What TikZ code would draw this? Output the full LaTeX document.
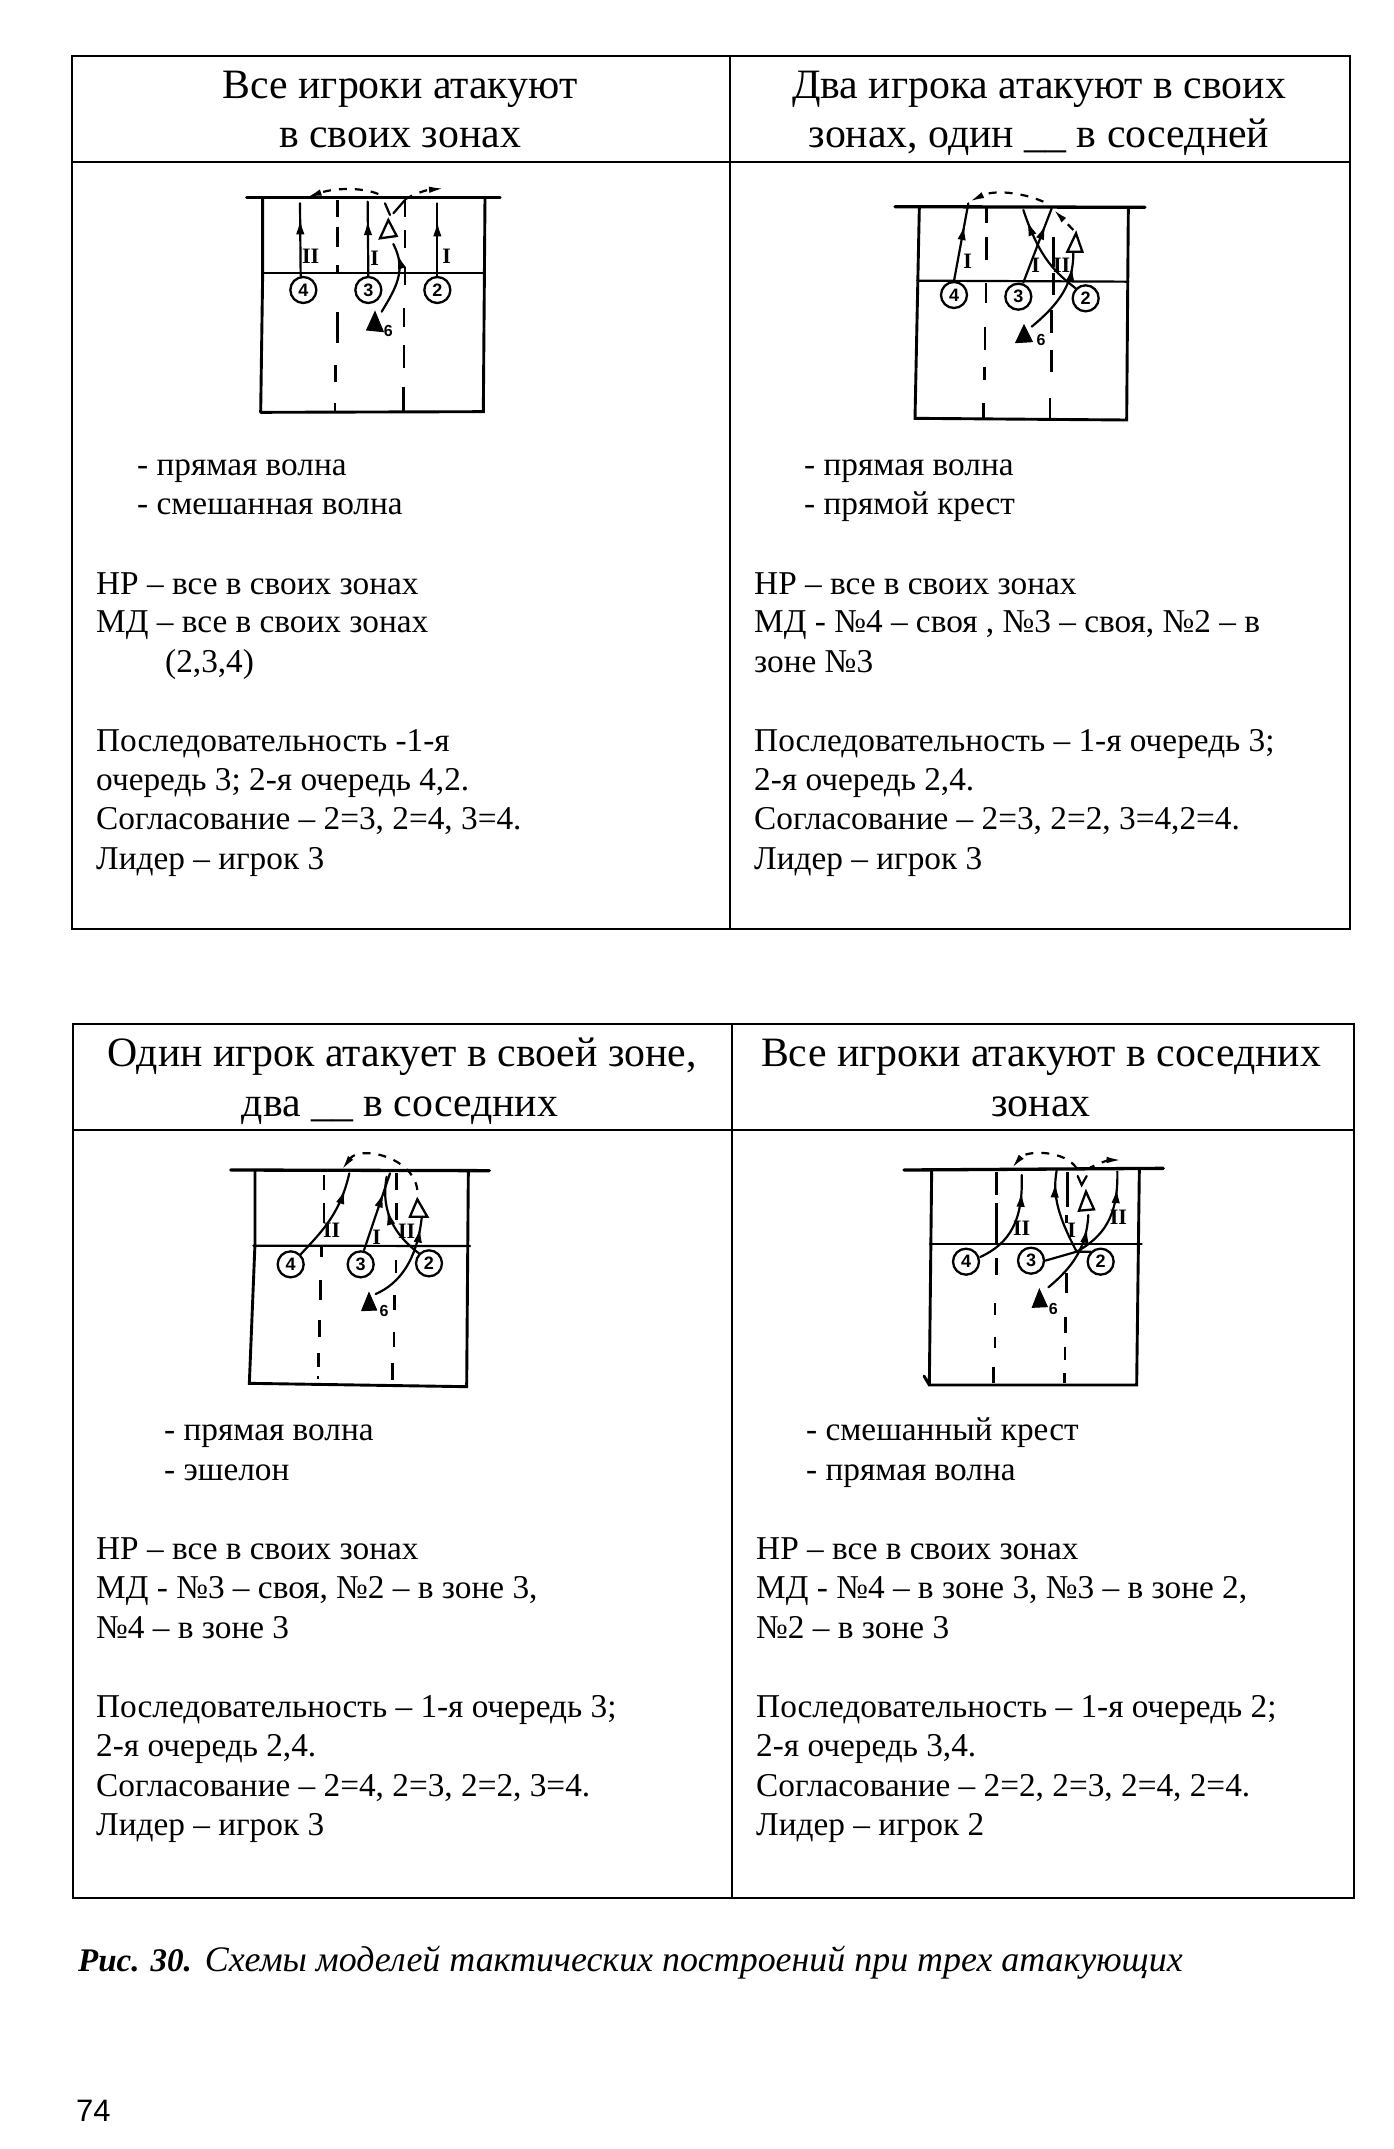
\documentclass[tikz,border=0pt]{standalone}
\usepackage{fontspec}
\setmainfont{Liberation Serif}
\newfontfamily\hw{Liberation Sans}
\usetikzlibrary{arrows.meta,decorations.markings}
\tikzset{
 cell/.style={line width=2.4pt,draw=black,line cap=rect},
 hd/.style={anchor=base,font=\fontsize{41.8}{42}\selectfont,inner sep=0pt},
 bd/.style={anchor=base west,font=\fontsize{33.3}{34}\selectfont,inner sep=0pt},
 court/.style={line width=2.9pt,line cap=round},
 netl/.style={line width=3.3pt,line cap=round},
 zone/.style={line width=2.4pt},
 atk/.style={line width=2.2pt,line cap=round},
 marr/.style={atk,decoration={markings,mark=at position #1 with {\arrow{Latex[length=15pt,width=8.5pt]}}},postaction={decorate}},
 pass/.style={line width=2.2pt,dash pattern=on 8pt off 8pt},
 tipped/.style={-{Latex[length=15pt,width=6.5pt]}},
 plr/.style={circle,draw,line width=2.3pt,minimum size=26pt,inner sep=0pt,font=\hw\bfseries\fontsize{18}{18}\selectfont},
 opent/.style={line width=2.3pt,fill=white,line join=miter},
 fillt/.style={fill=black,draw=black,line width=1pt},
 rn/.style={font=\bfseries\fontsize{22}{22}\selectfont,inner sep=0pt},
 sx/.style={font=\hw\bfseries\fontsize{16}{16}\selectfont,inner sep=0pt},
 cs/.style={x=.33333pt,y=-.33333pt}
}
\newcommand{\tx}[4]{\node[bd] (#3) at (#1,#2+1) {#4};}
\begin{document}
\begin{tikzpicture}[x=1pt,y=-1pt]
\useasboundingbox[fill=white] (0,0) rectangle (1394,2149);
% tables
\draw[cell] (72,56) rectangle (1350,929);
\draw[cell] (72,162) -- (1350,162);
\draw[cell] (730,56) -- (730,929);
\draw[cell] (73,1024) rectangle (1354,1898);
\draw[cell] (73,1130) -- (1354,1130);
\draw[cell] (732,1024) -- (732,1898);
% headers
\node[hd] (h1a) at (400,98) {Все игроки атакуют};
\node[hd] (h1b) at (400,147) {в своих зонах};
\node[hd] (h2a) at (1039,98) {Два игрока атакуют в своих};
\node[hd] (h2b) at (1039,147) {зонах, один \_\_ в соседней};
\node[hd] (h3a) at (402,1066) {Один игрок атакует в своей зоне,};
\node[hd] (h3b) at (400,1116) {два \_\_ в соседних};
\node[hd] (h4a) at (1041,1066) {Все игроки атакуют в соседних};
\node[hd] (h4b) at (1041,1116) {зонах};
% body 1
\tx{137}{474}{a1}{- прямая волна}
\tx{137}{513}{a2}{- смешанная волна}
\tx{96}{593}{a3}{НР – все в своих зонах}
\tx{96}{631}{a4}{МД – все в своих зонах}
\tx{165}{671}{a5}{(2,3,4)}
\tx{96}{750}{a6}{Последовательность -1-я}
\tx{96}{789}{a7}{очередь 3; 2-я очередь 4,2.}
\tx{96}{828}{a8}{Согласование – 2=3, 2=4, 3=4.}
\tx{96}{868}{a9}{Лидер – игрок 3}
% body 2
\tx{804}{474}{b1}{- прямая волна}
\tx{804}{513}{b2}{- прямой крест}
\tx{754}{593}{b3}{НР – все в своих зонах}
\tx{754}{631}{b4}{МД - №4 – своя , №3 – своя, №2 – в}
\tx{754}{671}{b5}{зоне №3}
\tx{754}{750}{b6}{Последовательность – 1-я очередь 3;}
\tx{754}{789}{b7}{2-я очередь 2,4.}
\tx{754}{828}{b8}{Согласование – 2=3, 2=2, 3=4,2=4.}
\tx{754}{868}{b9}{Лидер – игрок 3}
% body 3
\tx{164}{1439}{c1}{- прямая волна}
\tx{164}{1479}{c2}{- эшелон}
\tx{96}{1558}{c3}{НР – все в своих зонах}
\tx{96}{1597}{c4}{МД - №3 – своя, №2 – в зоне 3,}
\tx{96}{1637}{c5}{№4 – в зоне 3}
\tx{96}{1716}{c6}{Последовательность – 1-я очередь 3;}
\tx{96}{1755}{c7}{2-я очередь 2,4.}
\tx{96}{1795}{c8}{Согласование – 2=4, 2=3, 2=2, 3=4.}
\tx{96}{1834}{c9}{Лидер – игрок 3}
% body 4
\tx{756}{1558}{d3}{НР – все в своих зонах}
\tx{806}{1439}{d1}{- смешанный крест}
\tx{806}{1479}{d2}{- прямая волна}
\tx{756}{1597}{d4}{МД - №4 – в зоне 3, №3 – в зоне 2,}
\tx{756}{1637}{d5}{№2 – в зоне 3}
\tx{756}{1716}{d6}{Последовательность – 1-я очередь 2;}
\tx{756}{1755}{d7}{2-я очередь 3,4.}
\tx{756}{1795}{d8}{Согласование – 2=2, 2=3, 2=4, 2=4.}
\tx{756}{1834}{d9}{Лидер – игрок 2}
% caption and page number
\node[bd,font=\fontsize{33}{33}\selectfont\itshape] (cap) at (78,1971) {\textbf{Рис. 30.}\hspace{13pt}\fontsize{35.9}{36}\selectfont Схемы моделей тактических построений при трех атакующих};
\node[bd,font=\hw\fontsize{31}{31}\selectfont] (pg) at (76,2121) {74};

% ---------- court 1
\begin{scope}[shift={(220,170)},cs]
\draw[netl] (80,82) -- (840,82);
\draw[court] (128,82) -- (128,310) (122,727) -- (128,310) (122,727) -- (790,725) -- (795,82);
\draw[atk] (128,310) -- (790,310);
\foreach \a/\b/\c in {352/90/140,352/170/230,352/285/310,352/425/520,347/585/635,345/700/725,555/90/140,555/180/235,555/290/345,552/415/470,552/525/595,550/650/725}
  \draw[zone] (\a,\b) -- (\a,\c);
\node[plr] (a4) at (250,360) {4};
\node[plr] (a3) at (445,360) {3};
\node[plr] (a2) at (652,360) {2};
\coordinate (ae4) at (240,100); \coordinate (ae3) at (443,95); \coordinate (ae2) at (652,100);
\draw[marr=.78] (a4.north) ++(-8,0) -- (ae4);
\draw[marr=.75] (a3.north) -- (ae3);
\draw[marr=.75] (a2.north) -- (ae2);
\coordinate (as) at (485,425); \coordinate (ast) at (520,222);
\draw[marr=.85] (as) .. controls (530,350) and (560,300) .. (ast);
\draw[opent] (505,150) -- (480,205) -- (530,198) -- cycle;
\draw[fillt] (465,425) -- (440,480) -- (490,485) -- cycle;
\node[sx] (a6) at (505,482) {6};
\node[rn] (ar1) at (272,258) {II};
\node[rn] (ar2) at (464,266) {I};
\node[rn] (ar3) at (680,258) {I};
\coordinate (ap0) at (555,90); \coordinate (ap1) at (520,130); \coordinate (ap2) at (495,100); \coordinate (ap3) at (510,135);
\draw[atk] (ap0) -- (ap1);
\draw[atk] (ap2) -- (ap3);
\coordinate (al) at (260,82); \coordinate (alf) at (475,72); \coordinate (ar) at (672,55); \coordinate (arf) at (555,88);
\draw[pass,tipped] (alf) .. controls (420,50) and (340,55) .. (al);
\draw[pass,tipped] (arf) .. controls (590,68) and (620,60) .. (ar);
\end{scope}

% ---------- court 2
\begin{scope}[shift={(870,170)},cs]
\draw[netl] (75,110) -- (825,112);
\draw[court] (148,112) -- (135,745) -- (770,750) -- (775,115);
\draw[atk] (142,332) -- (775,335);
\foreach \a/\b/\c in {350/115/160,350/200/270,348/340/400,345/470/540,343/590/630,340/700/745,550/200/290,550/310/375,545/420/490,545/540/605,540/685/745}
  \draw[zone] (\a,\b) -- (\a,\c);
\node[plr] (b4) at (252,375) {4};
\node[plr] (b3) at (445,380) {3};
\node[plr] (b2) at (647,385) {2};
\coordinate (be4) at (295,100); \coordinate (be3) at (545,115); \coordinate (be2) at (460,120);
\draw[marr=.72] (b4.north) -- (be4);
\draw[marr=.78] (b3.north) ++(15,0) -- (be3);
\draw[marr=.88] (b2.north west) .. controls (560,310) and (510,270) .. (be2);
\coordinate (bs) at (485,470); \coordinate (bst) at (610,250);
\draw[marr=.85] (bs) .. controls (570,400) and (610,340) .. (bst);
\draw[opent] (618,190) -- (592,245) -- (637,245) -- cycle;
\draw[fillt] (462,465) -- (437,518) -- (487,515) -- cycle;
\node[sx] (b6) at (513,510) {6};
\node[rn] (br1) at (293,275) {I};
\node[rn] (br2) at (497,285) {I};
\node[rn] (br3) at (575,285) {II};
\coordinate (bp0) at (610,180); \coordinate (bp1) at (550,118); \coordinate (bp2) at (520,95); \coordinate (bp3) at (298,95);
\draw[pass,tipped] (bp0) -- (bp1);
\draw[pass,tipped] (bp2) .. controls (450,65) and (370,60) .. (bp3);
\end{scope}

% ---------- court 3
\begin{scope}[shift={(210,1140)},cs]
\draw[netl] (62,90) -- (838,92);
\draw[court] (135,92) -- (135,310) -- (118,730) -- (770,740) -- (775,95);
\draw[atk] (130,317) -- (780,318);
\foreach \a/\b/\c in {342/105/150,342/190/250,335/320/350,332/420/480,328/540/590,325/640/680,324/708/718,560/100/150,560/190/240,558/360/400,553/465/510,552/575/620,548/670/720}
  \draw[zone] (\a,\b) -- (\a,\c);
\node[plr] (c4) at (242,373) {4};
\node[plr] (c3) at (452,373) {3};
\node[plr] (c2) at (657,370) {2};
\coordinate (ce4) at (418,100); \coordinate (ce3) at (540,100); \coordinate (ce2) at (530,110);
\draw[marr=.83] (c4.north east) .. controls (340,270) and (390,220) .. (ce4);
\draw[marr=.75] (c3.north) ++(10,0) -- (ce3);
\draw[marr=.62] (c2.north west) .. controls (560,290) and (510,220) .. (ce2);
\coordinate (cs1) at (497,462); \coordinate (cst) at (635,235);
\draw[marr=.9] (cs1) .. controls (570,430) and (620,360) .. (cst);
\draw[opent] (622,178) -- (600,230) -- (652,230) -- cycle;
\draw[fillt] (477,458) -- (455,512) -- (500,510) -- cycle;
\node[sx] (c6) at (522,512) {6};
\node[rn] (cr1) at (365,270) {II};
\node[rn] (cr2) at (500,292) {I};
\node[rn] (cr3) at (590,275) {II};
\coordinate (cp0) at (622,150); \coordinate (cp1) at (395,90);
\draw[pass,tipped] (cp0) .. controls (610,50) and (450,15) .. (cp1);
\end{scope}

% ---------- court 4
\begin{scope}[shift={(880,1140)},cs]
\draw[netl] (72,90) -- (850,85);
\draw[court] (155,90) -- (148,735) (132,708) -- (148,735) -- (770,735) -- (778,90);
\draw[atk] (150,312) -- (785,312);
\foreach \a/\b/\c in {350/95/165,350/190/310,350/355/405,345/490/525,345/590/625,340/680/730,562/95/200,560/225/250,560/400/460,557/530/580,555/620/660,553/700/730}
  \draw[zone] (\a,\b) -- (\a,\c);
\node[plr] (d4) at (258,365) {4};
\node[plr] (d3) at (453,362) {3};
\node[plr] (d2) at (662,365) {2};
\coordinate (de4) at (425,105); \coordinate (de3) at (530,92); \coordinate (de2) at (712,95); \coordinate (dm) at (590,335);
\draw[marr=.83] (d4.east) ++(0,-14) .. controls (390,310) and (430,240) .. (de4);
\draw[atk] (d3.east) -- (dm);
\draw[marr=.86] (dm) .. controls (540,240) and (515,170) .. (de3);
\draw[marr=.85] (d2.north west) -- (dm) .. controls (670,290) and (715,230) .. (de2);
\coordinate (ds) at (505,442); \coordinate (dst) at (625,225);
\draw[marr=.85] (ds) .. controls (580,380) and (620,320) .. (dst);
\draw[opent] (618,155) -- (597,212) -- (642,208) -- cycle;
\draw[fillt] (478,448) -- (457,502) -- (502,500) -- cycle;
\node[sx] (d6) at (520,508) {6};
\node[rn] (dr1) at (425,265) {II};
\node[rn] (dr2) at (715,232) {II};
\node[rn] (dr3) at (575,270) {I};
\coordinate (dp0) at (590,85); \coordinate (dp1) at (395,85); \coordinate (dp2) at (622,88); \coordinate (dp3) at (725,60);
\coordinate (dv1) at (593,108); \coordinate (dv2) at (605,135); \coordinate (dv3) at (620,108);
\draw[pass,tipped] (dp0) .. controls (555,30) and (440,30) .. (dp1);
\draw[pass,tipped] (dp2) .. controls (650,70) and (690,60) .. (dp3);
\draw[atk] (dv1) -- (dv2) -- (dv3);
\end{scope}
\end{tikzpicture}
\end{document}
